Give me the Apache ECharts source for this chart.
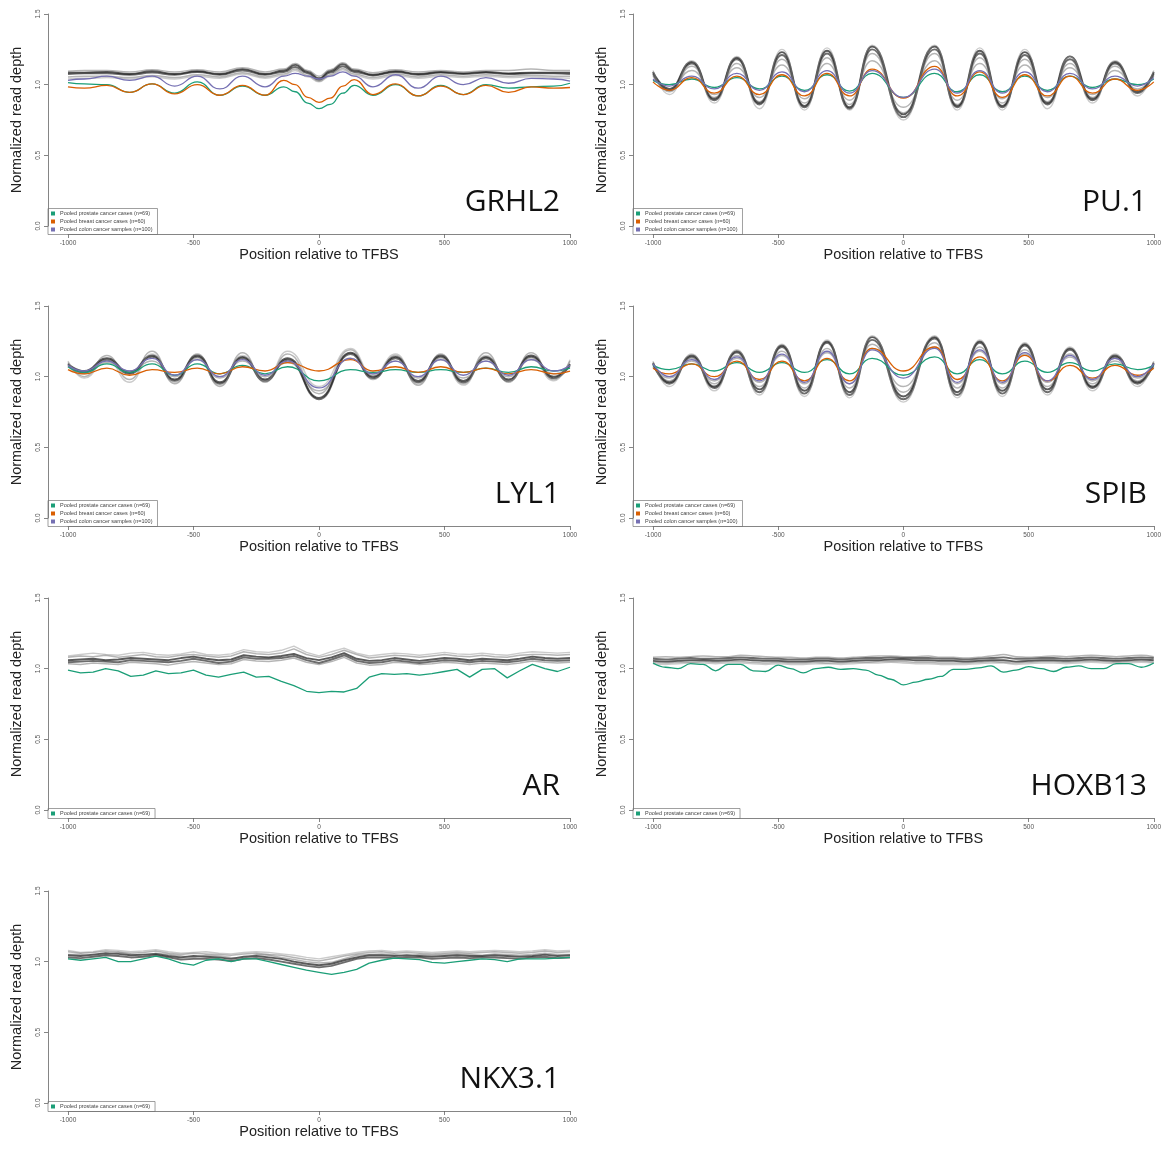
<!DOCTYPE html>
<html>
<head>
<meta charset="utf-8">
<script src="https://cdn.jsdelivr.net/npm/echarts@6/dist/echarts.min.js"></script>
<style>
  html, body { margin: 0; padding: 0; background: #fff; }
  #chart { width: 1164px; height: 1151px; }
</style>
</head>
<body>
<div id="chart"></div>
<script>
// positions (bp relative to TFBS) where the curves were read
const grhl2Pos = [-1000,-935,-845,-755,-665,-575,-485,-395,-305,-215,-140,-95,-45,0,45,95,140,215,305,395,485,575,665,755,845,935,1000];
const phasedPos = [-1000,-935,-845,-755,-665,-575,-485,-395,-305,-215,-125,0,125,215,305,395,485,575,665,755,845,935,1000];
const flatPos = [-1000,-950,-900,-850,-800,-750,-700,-650,-600,-550,-500,-450,-400,-350,-300,-250,-200,-150,-100,-50,0,50,100,150,200,250,300,350,400,450,500,550,600,650,700,750,800,850,900,950,1000];

// GRHL2
const grhl2Prostate = [1.015,1.005,1.0,0.945,1.005,0.94,1.02,0.925,0.99,0.925,0.985,0.95,0.87,0.83,0.86,0.94,0.995,0.925,1.0,0.92,0.995,0.93,1.0,0.975,0.985,0.99,1.01];
const grhl2Breast = [0.985,0.975,0.995,0.945,1.005,0.935,1.0,0.925,0.995,0.925,1.03,1.0,0.91,0.875,0.905,0.99,1.035,0.93,1.005,0.92,0.99,0.93,0.995,0.945,0.985,0.975,0.98];
const grhl2Colon = [1.03,1.04,1.06,1.03,1.06,0.99,1.06,0.97,1.06,0.985,1.06,1.08,1.06,1.04,1.06,1.09,1.06,0.985,1.07,0.975,1.06,1.0,1.05,1.01,1.045,1.04,1.025];
const grhl2Samples = [
  [1.085,1.085,1.09,1.075,1.095,1.075,1.095,1.075,1.11,1.075,1.10,1.14,1.09,1.045,1.095,1.145,1.10,1.07,1.095,1.075,1.09,1.08,1.09,1.08,1.085,1.085,1.085],
  [1.075,1.08,1.08,1.07,1.085,1.07,1.09,1.07,1.10,1.07,1.09,1.125,1.08,1.035,1.085,1.13,1.09,1.065,1.09,1.07,1.085,1.075,1.085,1.075,1.08,1.08,1.075],
  [1.095,1.10,1.10,1.09,1.105,1.09,1.105,1.09,1.12,1.09,1.11,1.15,1.10,1.06,1.105,1.155,1.11,1.085,1.105,1.09,1.10,1.09,1.10,1.10,1.11,1.10,1.10],
  [1.055,1.06,1.06,1.05,1.065,1.05,1.07,1.055,1.085,1.055,1.075,1.11,1.065,1.025,1.07,1.115,1.075,1.05,1.075,1.055,1.07,1.06,1.07,1.06,1.065,1.06,1.06],
  [1.04,1.045,1.05,1.04,1.055,1.04,1.06,1.045,1.075,1.045,1.065,1.10,1.055,1.02,1.06,1.105,1.065,1.04,1.065,1.045,1.06,1.05,1.06,1.05,1.055,1.05,1.045]
];

// PU.1
const pu1Prostate = [1.03,1.0,1.04,0.98,1.05,0.97,1.06,0.96,1.07,0.955,1.08,0.91,1.08,0.95,1.07,0.95,1.06,0.96,1.06,0.98,1.04,1.0,1.04];
const pu1Breast = [1.02,0.96,1.05,0.94,1.06,0.93,1.07,0.92,1.08,0.92,1.11,0.905,1.13,0.92,1.09,0.91,1.07,0.92,1.06,0.94,1.04,0.96,1.02];
const pu1Colon = [1.04,0.99,1.06,0.97,1.08,0.96,1.09,0.95,1.10,0.94,1.10,0.91,1.11,0.94,1.10,0.94,1.09,0.95,1.08,0.97,1.06,0.99,1.05];
const pu1Samples = [
  [1.09,0.97,1.16,0.90,1.19,0.87,1.23,0.85,1.24,0.84,1.27,0.79,1.27,0.85,1.24,0.85,1.23,0.87,1.20,0.90,1.16,0.95,1.09],
  [1.08,0.96,1.15,0.89,1.18,0.86,1.21,0.84,1.22,0.83,1.25,0.77,1.25,0.84,1.22,0.84,1.21,0.86,1.18,0.89,1.15,0.94,1.08],
  [1.07,0.95,1.13,0.91,1.15,0.88,1.18,0.87,1.19,0.86,1.22,0.80,1.22,0.86,1.19,0.87,1.18,0.88,1.15,0.91,1.13,0.95,1.07],
  [1.06,0.97,1.10,0.93,1.12,0.91,1.14,0.90,1.15,0.89,1.17,0.84,1.17,0.89,1.15,0.90,1.14,0.91,1.12,0.93,1.10,0.97,1.06],
  [1.10,0.93,1.17,0.87,1.20,0.83,1.25,0.82,1.26,0.82,1.28,0.75,1.28,0.82,1.26,0.82,1.25,0.83,1.20,0.87,1.17,0.92,1.10]
];

// LYL1
const lyl1Prostate = [1.07,1.03,1.09,1.03,1.09,1.01,1.09,1.02,1.08,1.02,1.07,0.97,1.05,1.03,1.05,1.03,1.05,1.03,1.06,1.03,1.07,1.04,1.06];
const lyl1Breast = [1.05,1.02,1.06,1.01,1.05,1.03,1.06,1.02,1.07,1.04,1.10,1.04,1.12,1.04,1.07,1.03,1.07,1.03,1.06,1.02,1.05,1.02,1.04];
const lyl1Colon = [1.08,1.04,1.11,1.04,1.13,1.01,1.12,1.0,1.12,1.01,1.11,0.92,1.13,1.02,1.11,1.0,1.12,1.01,1.11,1.01,1.12,1.04,1.08];
const lyl1Samples = [
  [1.09,1.04,1.13,1.03,1.15,0.98,1.15,0.96,1.14,0.98,1.13,0.85,1.17,1.0,1.14,0.97,1.15,0.97,1.14,0.98,1.15,1.0,1.09],
  [1.08,1.03,1.12,1.02,1.14,0.97,1.14,0.95,1.13,0.97,1.12,0.84,1.16,0.99,1.13,0.96,1.14,0.96,1.13,0.97,1.14,0.99,1.08],
  [1.10,1.0,1.15,0.98,1.18,0.95,1.16,0.93,1.17,0.96,1.16,0.88,1.19,0.98,1.15,0.94,1.16,0.95,1.17,0.96,1.17,0.98,1.11],
  [1.07,1.02,1.10,1.04,1.11,1.0,1.12,0.99,1.11,1.0,1.10,0.90,1.13,1.02,1.11,0.99,1.12,0.99,1.11,1.0,1.12,1.02,1.07],
  [1.11,0.99,1.12,0.96,1.16,0.96,1.13,0.94,1.15,0.97,1.18,0.93,1.20,1.01,1.16,0.95,1.13,0.94,1.15,0.97,1.13,0.97,1.12]
];

// SPIB
const spibProstate = [1.08,1.05,1.09,1.04,1.10,1.03,1.10,1.03,1.12,1.02,1.13,1.01,1.14,1.02,1.12,1.02,1.11,1.03,1.10,1.04,1.09,1.05,1.08];
const spibBreast = [1.06,1.02,1.09,1.0,1.11,0.98,1.11,0.97,1.13,0.97,1.20,1.04,1.21,0.98,1.14,0.97,1.15,0.97,1.08,0.99,1.08,1.01,1.06];
const spibColon = [1.09,1.0,1.12,0.98,1.14,0.97,1.16,0.96,1.18,0.95,1.19,0.99,1.20,0.96,1.19,0.96,1.17,0.97,1.15,0.98,1.13,1.0,1.09];
const spibSamples = [
  [1.10,0.96,1.15,0.93,1.18,0.91,1.22,0.90,1.25,0.89,1.28,0.86,1.28,0.89,1.25,0.90,1.23,0.91,1.20,0.93,1.15,0.96,1.10],
  [1.09,0.95,1.14,0.92,1.17,0.89,1.21,0.88,1.24,0.87,1.26,0.84,1.27,0.87,1.24,0.88,1.22,0.89,1.19,0.92,1.14,0.95,1.09],
  [1.08,0.97,1.13,0.95,1.15,0.93,1.18,0.92,1.20,0.92,1.23,0.89,1.24,0.92,1.21,0.92,1.19,0.93,1.16,0.95,1.13,0.97,1.08],
  [1.07,0.99,1.11,0.97,1.13,0.96,1.15,0.95,1.17,0.95,1.20,0.93,1.21,0.95,1.18,0.95,1.16,0.96,1.14,0.97,1.11,0.99,1.07],
  [1.11,0.93,1.16,0.90,1.19,0.87,1.23,0.86,1.26,0.85,1.29,0.82,1.29,0.85,1.26,0.86,1.24,0.87,1.21,0.90,1.16,0.93,1.11]
];

// AR
const arProstate = [0.99,0.97,0.975,1.0,0.985,0.945,0.955,0.985,0.965,0.97,0.99,0.955,0.94,0.96,0.975,0.94,0.945,0.91,0.88,0.84,0.83,0.84,0.835,0.86,0.94,0.965,0.96,0.965,0.955,0.965,0.98,0.995,0.94,0.995,1.0,0.935,0.985,1.03,1.0,0.98,1.01];
const arSamples = [
  [1.06,1.065,1.07,1.06,1.065,1.075,1.07,1.065,1.06,1.075,1.085,1.07,1.06,1.065,1.095,1.085,1.08,1.09,1.105,1.075,1.06,1.08,1.11,1.07,1.055,1.06,1.075,1.065,1.055,1.065,1.075,1.07,1.06,1.07,1.065,1.06,1.07,1.085,1.075,1.07,1.075],
  [1.045,1.05,1.055,1.05,1.045,1.06,1.055,1.05,1.045,1.055,1.07,1.055,1.04,1.05,1.08,1.07,1.07,1.075,1.09,1.06,1.04,1.065,1.095,1.055,1.04,1.045,1.06,1.05,1.04,1.05,1.06,1.055,1.045,1.055,1.05,1.045,1.055,1.07,1.06,1.055,1.06],
  [1.08,1.09,1.085,1.095,1.08,1.09,1.1,1.085,1.08,1.095,1.1,1.09,1.08,1.09,1.12,1.105,1.1,1.11,1.14,1.1,1.08,1.1,1.13,1.1,1.075,1.085,1.095,1.09,1.08,1.09,1.1,1.09,1.085,1.095,1.085,1.08,1.095,1.1,1.1,1.095,1.1],
  [1.035,1.03,1.04,1.035,1.03,1.045,1.04,1.035,1.025,1.04,1.05,1.04,1.03,1.035,1.065,1.055,1.05,1.06,1.075,1.045,1.03,1.05,1.08,1.04,1.025,1.03,1.045,1.04,1.03,1.035,1.045,1.04,1.03,1.04,1.035,1.03,1.04,1.055,1.045,1.04,1.045],
  [1.09,1.1,1.11,1.1,1.095,1.11,1.115,1.1,1.095,1.105,1.12,1.1,1.095,1.105,1.135,1.12,1.115,1.13,1.16,1.115,1.09,1.12,1.145,1.11,1.09,1.1,1.11,1.105,1.095,1.105,1.115,1.105,1.1,1.11,1.1,1.095,1.11,1.12,1.115,1.11,1.115]
];

// HOXB13
const hoxb13Prostate = [1.04,1.01,1.0,1.035,1.03,0.985,1.03,1.03,0.985,0.98,1.025,1.0,0.97,1.0,1.01,0.995,1.0,0.99,0.955,0.925,0.885,0.905,0.925,0.945,0.995,0.995,1.005,1.02,0.975,0.99,1.015,1.0,0.98,1.01,1.02,1.0,1.0,1.035,1.035,1.01,1.04];
const hoxb13Samples = [
  [1.055,1.05,1.055,1.06,1.06,1.055,1.06,1.065,1.06,1.055,1.055,1.05,1.05,1.055,1.055,1.05,1.055,1.06,1.06,1.065,1.065,1.06,1.06,1.055,1.055,1.05,1.055,1.06,1.06,1.05,1.055,1.06,1.06,1.055,1.06,1.065,1.06,1.055,1.06,1.065,1.06],
  [1.07,1.065,1.07,1.075,1.07,1.07,1.075,1.08,1.075,1.07,1.07,1.065,1.065,1.07,1.07,1.065,1.07,1.075,1.075,1.08,1.075,1.075,1.075,1.07,1.07,1.065,1.07,1.075,1.08,1.07,1.07,1.075,1.075,1.07,1.075,1.08,1.075,1.07,1.075,1.08,1.075],
  [1.045,1.04,1.045,1.045,1.05,1.045,1.05,1.05,1.045,1.04,1.045,1.04,1.04,1.045,1.04,1.04,1.045,1.045,1.05,1.05,1.05,1.045,1.045,1.04,1.04,1.04,1.045,1.05,1.045,1.04,1.045,1.05,1.05,1.045,1.05,1.055,1.05,1.045,1.05,1.055,1.045],
  [1.08,1.085,1.08,1.085,1.09,1.085,1.085,1.095,1.09,1.085,1.08,1.08,1.075,1.08,1.08,1.075,1.08,1.085,1.09,1.09,1.085,1.085,1.09,1.08,1.08,1.075,1.08,1.09,1.1,1.085,1.08,1.085,1.09,1.085,1.09,1.095,1.09,1.085,1.09,1.095,1.085],
  [1.035,1.03,1.035,1.04,1.04,1.035,1.04,1.04,1.035,1.03,1.035,1.03,1.03,1.035,1.035,1.03,1.035,1.04,1.04,1.045,1.04,1.035,1.035,1.03,1.03,1.03,1.035,1.04,1.04,1.03,1.035,1.04,1.04,1.035,1.04,1.045,1.04,1.035,1.04,1.045,1.04]
];

// NKX3.1
const nkx31Prostate = [1.02,1.01,1.02,1.03,1.0,1.0,1.02,1.04,1.02,0.99,0.975,1.01,1.02,1.0,1.02,1.02,1.0,0.98,0.96,0.94,0.925,0.91,0.925,0.945,0.99,1.01,1.025,1.02,1.015,0.995,0.99,1.0,1.01,1.02,1.015,1.0,1.02,1.02,1.02,1.025,1.03];
const nkx31Samples = [
  [1.045,1.04,1.05,1.06,1.055,1.045,1.05,1.055,1.04,1.03,1.04,1.035,1.03,1.02,1.035,1.04,1.03,1.02,1.0,0.985,0.975,0.985,1.01,1.03,1.045,1.045,1.04,1.045,1.04,1.035,1.04,1.045,1.04,1.04,1.045,1.04,1.035,1.04,1.05,1.04,1.045],
  [1.03,1.025,1.035,1.045,1.04,1.03,1.035,1.045,1.03,1.015,1.02,1.02,1.015,1.005,1.02,1.025,1.015,1.0,0.985,0.97,0.96,0.97,0.995,1.02,1.03,1.03,1.025,1.03,1.03,1.02,1.025,1.03,1.025,1.03,1.03,1.025,1.02,1.03,1.035,1.025,1.03],
  [1.07,1.06,1.065,1.075,1.07,1.06,1.065,1.075,1.06,1.05,1.06,1.055,1.05,1.045,1.055,1.06,1.05,1.045,1.03,1.015,1.005,1.02,1.04,1.055,1.065,1.07,1.06,1.065,1.06,1.055,1.06,1.065,1.06,1.065,1.07,1.065,1.06,1.065,1.075,1.065,1.07],
  [1.05,1.05,1.04,1.05,1.065,1.05,1.04,1.06,1.05,1.04,1.03,1.045,1.04,1.03,1.025,1.05,1.045,1.03,1.015,1.0,0.99,0.995,1.02,1.045,1.05,1.055,1.05,1.035,1.05,1.045,1.05,1.055,1.05,1.045,1.055,1.05,1.045,1.05,1.06,1.05,1.05],
  [1.08,1.065,1.07,1.085,1.08,1.07,1.075,1.085,1.07,1.06,1.065,1.07,1.06,1.055,1.065,1.07,1.065,1.055,1.045,1.03,1.02,1.035,1.05,1.065,1.075,1.08,1.07,1.075,1.07,1.065,1.07,1.075,1.07,1.075,1.08,1.075,1.07,1.075,1.085,1.075,1.08]
];

const xTicks = [-1000, -500, 0, 500, 1000];
const yTicks = [0.0, 0.5, 1.0, 1.5];
const pooledNames = ['Pooled prostate cancer cases (n=69)', 'Pooled breast cancer cases (n=60)', 'Pooled colon cancer samples (n=100)'];

// layout
const W = 1164, H = 1151;
const colLeft = [68, 653], colWidth = [502, 504];
const rowTop = [14, 306, 598, 891];
const plotH = 212;
const pooledColors = ['#1b9e77', '#d95f02', '#7570b3'];
const sampleStyles = [
  { color: 'rgba(20,20,20,0.7)', width: 1.9 },
  { color: 'rgba(30,30,30,0.65)', width: 1.9 },
  { color: 'rgba(90,90,90,0.45)', width: 1.5 },
  { color: 'rgba(90,90,90,0.45)', width: 1.5 },
  { color: 'rgba(140,140,140,0.45)', width: 1.4 }
];
const tickFont = 'Liberation Sans, Arial, sans-serif';

const panels = [
  { label: 'GRHL2', col: 0, row: 0, pos: grhl2Pos, pooled: [grhl2Prostate, grhl2Breast, grhl2Colon], samples: grhl2Samples, smooth: 0.5 },
  { label: 'PU.1', col: 1, row: 0, pos: phasedPos, pooled: [pu1Prostate, pu1Breast, pu1Colon], samples: pu1Samples, smooth: 0.5 },
  { label: 'LYL1', col: 0, row: 1, pos: phasedPos, pooled: [lyl1Prostate, lyl1Breast, lyl1Colon], samples: lyl1Samples, smooth: 0.5 },
  { label: 'SPIB', col: 1, row: 1, pos: phasedPos, pooled: [spibProstate, spibBreast, spibColon], samples: spibSamples, smooth: 0.5 },
  { label: 'AR', col: 0, row: 2, pos: flatPos, pooled: [arProstate], samples: arSamples, smooth: false },
  { label: 'HOXB13', col: 1, row: 2, pos: flatPos, pooled: [hoxb13Prostate], samples: hoxb13Samples, smooth: 0.4 },
  { label: 'NKX3.1', col: 0, row: 3, pos: flatPos, pooled: [nkx31Prostate], samples: nkx31Samples, smooth: false }
];

const grid = [], xAxis = [], yAxis = [], series = [], legend = [], title = [];

panels.forEach((p, i) => {
  const left = colLeft[p.col], width = colWidth[p.col], top = rowTop[p.row];
  grid.push({ left: left, top: top, width: width, height: plotH });
  xAxis.push({
    gridIndex: i, type: 'value', min: xTicks[0], max: xTicks[xTicks.length - 1], interval: 500, offset: 8,
    axisLine: { show: true, onZero: false, lineStyle: { color: '#666', width: 0.8 } },
    axisTick: { show: true, length: 4, lineStyle: { color: '#666', width: 0.8 } },
    axisLabel: { fontSize: 6.5, color: '#555', margin: 6, fontFamily: tickFont, formatter: v => String(v) },
    splitLine: { show: false },
    name: 'Position relative to TFBS', nameLocation: 'middle', nameGap: 13,
    nameTextStyle: { fontSize: 14.5, color: '#222', fontFamily: tickFont }
  });
  yAxis.push({
    gridIndex: i, type: 'value', min: yTicks[0], max: yTicks[yTicks.length - 1], interval: 0.5, offset: 20,
    axisLine: { show: true, onZero: false, lineStyle: { color: '#666', width: 0.8 } },
    axisTick: { show: true, length: 4, lineStyle: { color: '#666', width: 0.8 } },
    axisLabel: { rotate: 90, fontSize: 6.5, color: '#555', margin: 6, fontFamily: tickFont, formatter: v => v.toFixed(1) },
    splitLine: { show: false },
    name: 'Normalized read depth', nameLocation: 'middle', nameGap: 24,
    nameTextStyle: { fontSize: 14.5, color: '#222', fontFamily: tickFont }
  });

  p.samples.forEach((ys, k) => {
    const st = sampleStyles[k % sampleStyles.length];
    series.push({
      type: 'line', name: 'sample', xAxisIndex: i, yAxisIndex: i, silent: true,
      data: p.pos.map((x, j) => [x, ys[j]]),
      showSymbol: false, smooth: p.smooth, smoothMonotone: 'x',
      lineStyle: { color: st.color, width: st.width }, itemStyle: { color: st.color }
    });
  });
  p.pooled.forEach((ys, k) => {
    series.push({
      type: 'line', name: pooledNames[k], xAxisIndex: i, yAxisIndex: i, silent: true,
      data: p.pos.map((x, j) => [x, ys[j]]),
      showSymbol: false, smooth: p.smooth, smoothMonotone: 'x',
      lineStyle: { color: pooledColors[k], width: 1.3 }, itemStyle: { color: pooledColors[k] }
    });
  });

  legend.push({
    data: pooledNames.slice(0, p.pooled.length), orient: 'vertical', selectedMode: false,
    left: left - 20, bottom: H - (top + plotH + 8.5),
    icon: 'rect', itemWidth: 4, itemHeight: 4, itemGap: 2,
    padding: [2, 5, 2, 3], borderColor: '#777', borderWidth: 0.7, borderRadius: 0,
    textStyle: { fontSize: 5.5, color: '#444', fontFamily: tickFont }
  });
  title.push({
    text: p.label, right: W - (left + width) + 10, top: top + 173, padding: 0,
    textStyle: { fontSize: 30, fontWeight: 'normal', color: '#111', fontFamily: 'Open Sans, sans-serif' }
  });
});

const chart = echarts.init(document.getElementById('chart'), null, { renderer: 'canvas' });
chart.setOption({
  backgroundColor: '#fff',
  animation: false,
  grid: grid, xAxis: xAxis, yAxis: yAxis,
  legend: legend, title: title,
  series: series
});
</script>
</body>
</html>
